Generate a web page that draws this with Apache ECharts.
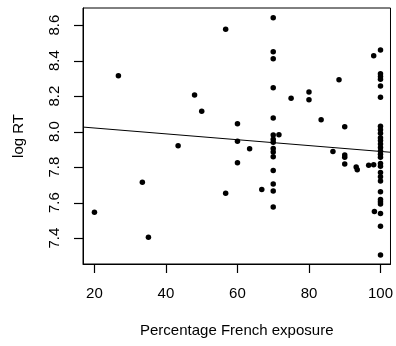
<!DOCTYPE html>
<html>
<head>
<meta charset="utf-8">
<script src="https://cdn.jsdelivr.net/npm/echarts@6/dist/echarts.min.js"></script>
<style>html,body{margin:0;padding:0;background:#fff;}#c{width:396px;height:346px;}</style>
</head>
<body>
<div id="c"></div>
<script>
// Percentage French exposure (x) and log RT (y)
const exposure = [
  20, 26.7, 33.4, 35.1, 43.4, 48, 50, 56.7, 56.7, 60, 60, 60, 63.4, 66.8,
  70, 70, 70, 70, 70, 70, 70, 70, 70, 70, 70, 70, 70, 70, 70, 71.6,
  75, 80, 80, 83.4, 86.7, 88.4, 90, 90, 90, 90, 93.2, 93.5, 96.7, 98.1, 98.1, 98.3,
  100, 100, 100, 100, 100, 100, 100, 100, 100, 100, 100, 100, 100, 100, 100, 100,
  100, 100, 100, 100, 100, 100, 100, 100, 100, 100, 100, 100
];
const logRT = [
  7.545, 8.314, 7.715, 7.404, 7.920, 8.206, 8.115, 8.577, 7.652, 8.044, 7.945, 7.824, 7.903, 7.674,
  8.641, 8.450, 8.410, 8.247, 8.076, 7.980, 7.956, 7.940, 7.905, 7.885, 7.858, 7.781, 7.704, 7.665, 7.575, 7.982,
  8.187, 8.223, 8.179, 8.066, 7.888, 8.292, 8.027, 7.868, 7.855, 7.817, 7.800, 7.785, 7.810, 7.813, 8.427, 7.550,
  8.459, 8.325, 8.310, 8.295, 8.256, 8.193, 8.030, 8.010, 7.990, 7.965, 7.950, 7.930, 7.910, 7.890,
  7.872, 7.855, 7.820, 7.805, 7.770, 7.745, 7.722, 7.661, 7.618, 7.605, 7.592, 7.539, 7.466, 7.304
];
// fitted regression line
const intercept = 8.053;
const slope = -0.00165;
const xTicks = [20, 40, 60, 80, 100];
const yTicks = [7.4, 7.6, 7.8, 8.0, 8.2, 8.4, 8.6];
const xLabel = 'Percentage French exposure';
const yLabel = 'log RT';

const xMin = 16.8, xMax = 102.8, yMin = 7.254, yMax = 8.696;
const pts = exposure.map((x, i) => [x, logRT[i]]);
const fit = [xMin, xMax].map(x => [x, intercept + slope * x]);
const font = 'Liberation Sans, Arial, Helvetica, sans-serif';
const fs = 15;
const tickLen = 9;

const chart = echarts.init(document.getElementById('c'), null, {renderer: 'canvas'});
chart.setOption({
  animation: false,
  backgroundColor: '#fff',
  grid: {left: 83, right: 2, top: 8, bottom: 82, show: true, borderColor: '#000', borderWidth: 1, backgroundColor: 'transparent'},
  xAxis: {
    type: 'value', min: xMin, max: xMax,
    name: xLabel, nameLocation: 'middle', nameGap: 59,
    nameTextStyle: {fontFamily: font, fontSize: fs, color: '#000'},
    axisLine: {show: true, onZero: false, lineStyle: {color: '#000', width: 1}},
    splitLine: {show: false},
    axisTick: {show: false},
    axisLabel: {fontFamily: font, fontSize: fs, color: '#000', margin: 22, customValues: xTicks, formatter: v => String(v)}
  },
  yAxis: {
    type: 'value', min: yMin, max: yMax,
    name: yLabel, nameLocation: 'middle', nameGap: 57, nameRotate: 90,
    nameTextStyle: {fontFamily: font, fontSize: fs, color: '#000'},
    axisLine: {show: true, onZero: false, lineStyle: {color: '#000', width: 1}},
    splitLine: {show: false},
    axisTick: {show: false},
    axisLabel: {fontFamily: font, fontSize: fs, color: '#000', margin: 21, rotate: 90, customValues: yTicks, formatter: v => v.toFixed(1)}
  },
  series: [
    {type: 'scatter', data: pts, symbol: 'circle', symbolSize: 5.5, itemStyle: {color: '#000', opacity: 1}, silent: true},
    {type: 'line', data: fit, showSymbol: false, lineStyle: {color: '#000', width: 1}, silent: true}
  ]
});

// outward tick marks, positioned through the chart's own axis scales
const tickEls = [];
xTicks.forEach(v => {
  const p = chart.convertToPixel({gridIndex: 0}, [v, yMin]);
  const x = Math.round(p[0]) + 0.5;
  tickEls.push({type: 'line', silent: true, z: 100,
    shape: {x1: x, y1: p[1], x2: x, y2: p[1] + tickLen},
    style: {stroke: '#000', lineWidth: 1.2}});
});
yTicks.forEach(v => {
  const p = chart.convertToPixel({gridIndex: 0}, [xMin, v]);
  const y = Math.round(p[1]) + 0.5;
  tickEls.push({type: 'line', silent: true, z: 100,
    shape: {x1: p[0] - tickLen, y1: y, x2: p[0], y2: y},
    style: {stroke: '#000', lineWidth: 1.2}});
});
chart.setOption({graphic: tickEls});
</script>
</body>
</html>
